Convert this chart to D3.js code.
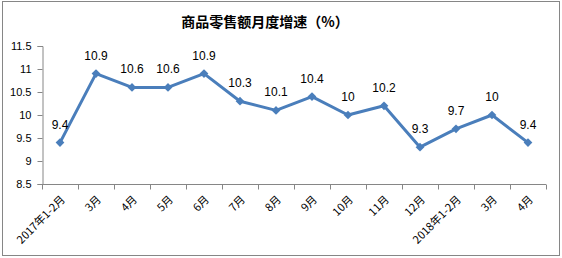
<!DOCTYPE html>
<html>
<head>
<meta charset="utf-8">
<script src="https://cdn.jsdelivr.net/npm/d3@7"></script>
<style>
  body { margin: 0; background: #fff; }
  svg { display: block; font-family: "Noto Sans CJK SC", "Liberation Sans", sans-serif; }
</style>
</head>
<body>
<svg id="chart" width="562" height="258"></svg>
<script>
// chart data
var categories = ["2017年1-2月", "3月", "4月", "5月", "6月", "7月", "8月", "9月", "10月", "11月", "12月", "2018年1-2月", "3月", "4月"];
var growth = [9.4, 10.9, 10.6, 10.6, 10.9, 10.3, 10.1, 10.4, 10, 10.2, 9.3, 9.7, 10, 9.4];
var yTicks = [8.5, 9, 9.5, 10, 10.5, 11, 11.5];
var title = "商品零售额月度增速（%）";

var svg = d3.select("#chart");
var lineColor = "#4A7EBB";
var axisColor = "#868686";

// outer frame
svg.append("rect")
    .attr("x", 2.5).attr("y", 1.5)
    .attr("width", 557).attr("height", 254)
    .attr("fill", "none")
    .attr("stroke", axisColor);

svg.append("text")
    .attr("x", 265).attr("y", 27)
    .attr("text-anchor", "middle")
    .attr("font-size", 14)
    .attr("font-weight", "bold")
    .text(title);

var x = d3.scaleBand()
    .domain(d3.range(categories.length))
    .range([42, 546]);

var y = d3.scaleLinear()
    .domain([8.5, 11.5])
    .range([184, 46]);

// y axis
var yAxis = svg.append("g")
    .attr("transform", "translate(42.5,0)")
    .call(d3.axisLeft(y).tickValues(yTicks).tickSize(5).tickPadding(6)
        .tickFormat(function (d) { return d; }));
yAxis.selectAll("path, line").attr("stroke", axisColor);
yAxis.selectAll("text").attr("font-size", 11).attr("fill", "#000")
    .attr("font-family", "Liberation Sans, sans-serif");

// x axis with ticks at band edges
var xAxis = svg.append("g").attr("transform", "translate(0,184.5)");
xAxis.append("line")
    .attr("x1", 42).attr("x2", 546)
    .attr("stroke", axisColor);
xAxis.selectAll("line.tick")
    .data(d3.range(categories.length + 1))
    .enter().append("line")
    .attr("class", "tick")
    .attr("x1", function (d) { return Math.round(42 + d * x.bandwidth()) + 0.5; })
    .attr("x2", function (d) { return Math.round(42 + d * x.bandwidth()) + 0.5; })
    .attr("y1", 0).attr("y2", 5)
    .attr("stroke", axisColor);
xAxis.selectAll("text")
    .data(categories)
    .enter().append("text")
    .attr("transform", function (d, i) {
        var cx = x(i) + x.bandwidth() / 2 + 3;
        return "translate(" + cx + ",13) rotate(-45)";
    })
    .attr("text-anchor", "end")
    .attr("dy", "0.35em")
    .attr("font-size", 11)
    .text(function (d) { return d; });

// series line
var line = d3.line()
    .x(function (d, i) { return x(i) + x.bandwidth() / 2; })
    .y(function (d) { return y(d); });

svg.append("path")
    .datum(growth)
    .attr("d", line)
    .attr("fill", "none")
    .attr("stroke", lineColor)
    .attr("stroke-width", 3)
    .attr("stroke-linejoin", "round");

svg.selectAll("path.marker")
    .data(growth)
    .enter().append("path")
    .attr("class", "marker")
    .attr("d", d3.symbol().type(d3.symbolSquare).size(38))
    .attr("transform", function (d, i) {
        return "translate(" + (x(i) + x.bandwidth() / 2) + "," + y(d) + ") rotate(45)";
    })
    .attr("fill", lineColor);

// value labels
svg.selectAll("text.value")
    .data(growth)
    .enter().append("text")
    .attr("class", "value")
    .attr("x", function (d, i) { return x(i) + x.bandwidth() / 2; })
    .attr("y", function (d) { return y(d) - 14; })
    .attr("text-anchor", "middle")
    .attr("font-size", 12)
    .attr("font-family", "Liberation Sans, sans-serif")
    .text(function (d) { return d; });
</script>
</body>
</html>
